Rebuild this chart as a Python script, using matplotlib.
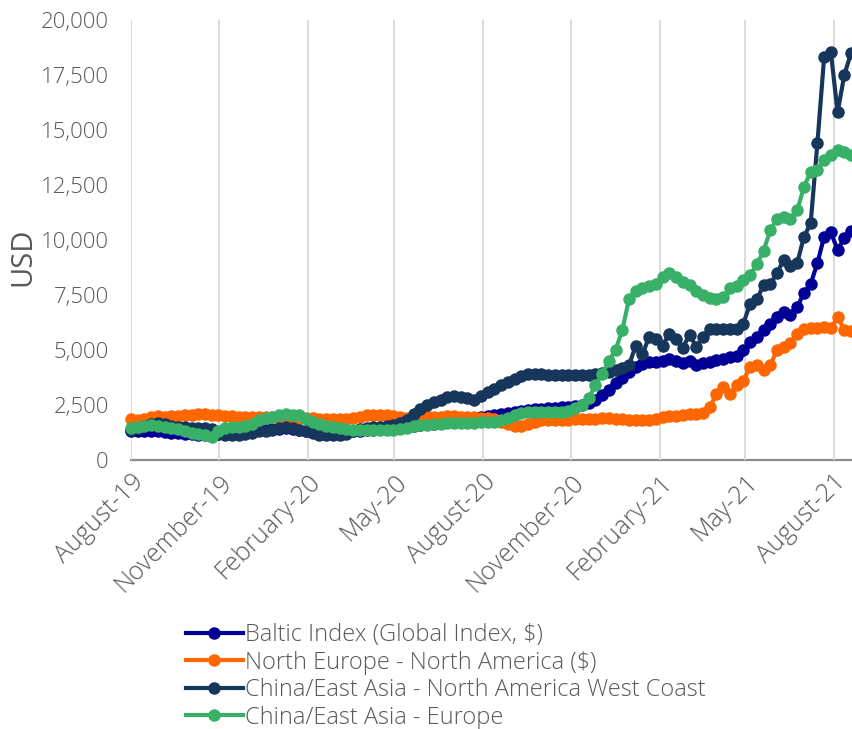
import matplotlib
matplotlib.use("Agg")
import matplotlib.pyplot as plt
import matplotlib.dates as mdates
from matplotlib import font_manager as fm
from matplotlib.ticker import FuncFormatter, MultipleLocator
import numpy as np
import pandas as pd

# ---------------- data (USD, weekly) ----------------
start_date = "2019-08-01"
n_weeks = 108
dates = pd.date_range(start_date, periods=n_weeks, freq="7D")

baltic = [
    1.30, 1.30, 1.32, 1.32, 1.30, 1.28, 1.25, 1.22, 1.20, 1.18, 1.15, 1.12, 1.10,
    1.20, 1.22, 1.25, 1.28, 1.30, 1.32, 1.35, 1.38, 1.40, 1.42, 1.45, 1.40, 1.35,
    1.30, 1.28, 1.25, 1.22, 1.22, 1.25, 1.28, 1.30, 1.32, 1.35, 1.38, 1.40, 1.42, 1.45, 1.48,
    1.50, 1.55, 1.60, 1.62, 1.65, 1.70, 1.75, 1.78, 1.80, 1.85, 1.90, 1.95, 2.00, 2.05, 2.10,
    2.15, 2.20, 2.25, 2.28, 2.30, 2.32, 2.35, 2.38, 2.40, 2.42, 2.45, 2.50, 2.60, 2.75, 2.95,
    3.20, 3.50, 3.75, 4.00,
    4.25, 4.35, 4.45, 4.45, 4.50, 4.60, 4.50, 4.40, 4.50, 4.30, 4.40, 4.45, 4.55, 4.60,
    4.70, 4.75, 5.00, 5.35, 5.60, 5.90, 6.20, 6.50, 6.75, 6.60, 6.95, 7.60, 8.00, 8.95,
    10.15, 10.35, 9.55, 10.10, 10.40,
]
north_europe = [
    1.85, 1.80, 1.85, 1.95, 2.00, 1.95, 2.00, 2.00, 2.05, 2.05, 2.10, 2.10, 2.05,
    2.05, 2.00, 2.00, 1.95, 1.95, 1.95, 1.95, 1.95, 1.95, 1.90, 1.95, 1.90, 1.90,
    1.90, 1.90, 1.85, 1.85, 1.85, 1.85, 1.85, 1.90, 1.95, 2.05, 2.05, 2.05, 2.05, 2.00,
    1.95, 1.90, 1.95, 2.00, 2.00, 1.95, 1.95, 2.00, 2.00, 1.95, 1.95, 1.95, 1.90, 1.90,
    1.85, 1.75, 1.65, 1.55, 1.55, 1.65, 1.75, 1.80, 1.80, 1.80, 1.80, 1.80, 1.85, 1.85,
    1.85, 1.85, 1.90, 1.90, 1.85, 1.85, 1.80, 1.80, 1.80, 1.80, 1.85, 1.95, 2.00, 2.00,
    2.05, 2.10, 2.10, 2.15, 2.40, 3.00, 3.30, 3.00, 3.40, 3.60, 4.25, 4.30, 4.10, 4.30,
    5.00, 5.15, 5.30, 5.75, 5.95, 6.00, 6.00, 6.05, 6.00, 6.50, 5.90, 5.85,
]
china_nawc = [
    1.36, 1.45, 1.55, 1.65, 1.70, 1.62, 1.55, 1.50, 1.48, 1.45, 1.45, 1.45, 1.40,
    1.20, 1.15, 1.15, 1.15, 1.20, 1.25, 1.30, 1.30, 1.35, 1.45, 1.50, 1.45, 1.35,
    1.30, 1.25, 1.15, 1.12, 1.12, 1.15, 1.20, 1.30, 1.40, 1.45, 1.50, 1.50, 1.55, 1.60,
    1.70, 1.80, 2.10, 2.30, 2.50, 2.65, 2.75, 2.85, 2.90, 2.85, 2.80, 2.75, 2.90, 3.10,
    3.25, 3.40, 3.55, 3.70, 3.80, 3.90, 3.92, 3.90, 3.88, 3.85, 3.85, 3.85, 3.85, 3.85,
    3.88, 3.90, 3.95, 4.00, 4.10, 4.20, 4.30, 5.20, 4.80, 5.60, 5.50, 5.20, 5.75, 5.50,
    5.10, 5.70, 5.15, 5.60, 5.95, 5.95, 5.95, 5.95, 5.95, 6.20, 7.10, 7.30, 7.95, 8.00,
    8.50, 9.10, 8.80, 8.95, 10.15, 10.75, 14.40, 18.30, 18.55, 15.80, 17.50, 18.50,
]
china_europe = [
    1.45, 1.50, 1.55, 1.60, 1.55, 1.50, 1.45, 1.40, 1.30, 1.25, 1.20, 1.15, 1.05,
    1.30, 1.45, 1.50, 1.50, 1.55, 1.65, 1.80, 1.90, 1.95, 2.05, 2.10, 2.05, 2.05,
    1.85, 1.75, 1.65, 1.55, 1.50, 1.45, 1.40, 1.38, 1.36, 1.35, 1.35, 1.35, 1.35, 1.38,
    1.40, 1.45, 1.55, 1.60, 1.60, 1.62, 1.65, 1.70, 1.70, 1.70, 1.70, 1.70, 1.72, 1.72,
    1.75, 1.80, 1.90, 2.05, 2.15, 2.20, 2.20, 2.20, 2.20, 2.20, 2.20, 2.25, 2.35, 2.50,
    2.80, 3.40, 3.90, 4.50, 5.00, 5.90, 7.30, 7.70, 7.80, 7.90, 8.00, 8.30, 8.50, 8.30,
    8.10, 7.95, 7.70, 7.50, 7.35, 7.30, 7.40, 7.80, 7.90, 8.20, 8.40, 8.90, 9.50, 10.45,
    10.95, 11.05, 10.95, 11.35, 12.40, 13.10, 13.20, 13.65, 13.85, 14.10, 14.00, 13.85,
]

series_names = [
    "Baltic Index (Global Index, $)",
    "North Europe - North America ($)",
    "China/East Asia - North America West Coast",
    "China/East Asia - Europe",
]
series_values = [baltic, north_europe, china_nawc, china_europe]
series_colors = ["#000096", "#FF6600", "#16365C", "#38B068"]

y_label = "USD"
x_tick_dates = ["2019-08-01", "2019-11-01", "2020-02-01", "2020-05-01", "2020-08-01",
                "2020-11-01", "2021-02-01", "2021-05-01", "2021-08-01"]

# ---------------- font ----------------
avail = {(f.name, f.weight) for f in fm.fontManager.ttflist}
family, weight = "Open Sans", "normal"
for fam in ["Open Sans", "Lato", "Noto Sans", "Roboto"]:
    if any(n == fam and (w == 300 or w == "light") for n, w in avail):
        family, weight = fam, "light"
        break
plt.rcParams["font.family"] = [family, "DejaVu Sans"]
plt.rcParams["font.weight"] = weight
text_color = "#595959"

# ---------------- figure ----------------
W, H = 852, 729
fig = plt.figure(figsize=(W / 100, H / 100), dpi=100)
ax = fig.add_axes([131 / W, 269 / H, (W - 131) / W, 440 / H])

for name, vals, col in zip(series_names, series_values, series_colors):
    ax.plot(dates, np.array(vals) * 1000, color=col, lw=3.0, marker="o",
            markersize=9, markeredgewidth=0, label=name, clip_on=False,
            solid_joinstyle="round")

ax.set_ylim(0, 20000)
ax.set_xlim(pd.Timestamp("2019-08-01"), pd.Timestamp("2021-08-20"))
ax.yaxis.set_major_locator(MultipleLocator(2500))
ax.yaxis.set_major_formatter(FuncFormatter(lambda v, p: f"{int(v):,}"))
ax.set_xticks(pd.to_datetime(x_tick_dates))
ax.xaxis.set_major_formatter(mdates.DateFormatter("%B-%y"))

ax.grid(axis="x", color="#D9D9D9", lw=1.3)
ax.grid(axis="y", visible=False)
ax.set_axisbelow(True)
for s in ["left", "right", "top"]:
    ax.spines[s].set_visible(False)
ax.spines["bottom"].set_color("#8C8C8C")
ax.spines["bottom"].set_linewidth(1.6)
ax.spines["bottom"].set_zorder(0.5)

ax.tick_params(axis="y", length=0, pad=16, labelsize=16, labelcolor=text_color)
ax.tick_params(axis="x", length=0, pad=7, labelsize=18, labelcolor=text_color)
for lab in ax.get_xticklabels():
    lab.set_rotation(45)
    lab.set_ha("right")
    lab.set_va("top")
    lab.set_rotation_mode("anchor")

ax.set_ylabel(y_label, fontsize=21, color=text_color)
ax.yaxis.set_label_coords(-(131 - 23) / (W - 131), (460 - 257) / 440)
ax.yaxis.label.set_va("center")

leg = fig.legend(loc="upper left", bbox_to_anchor=(186 / W, 1 - 623 / H),
                 frameon=False, fontsize=17, numpoints=1, handlelength=2.4,
                 handletextpad=0.08, labelspacing=0.15, borderaxespad=0,
                 borderpad=0)
for t in leg.get_texts():
    t.set_color(text_color)

fig.savefig("out.png", dpi=100)
